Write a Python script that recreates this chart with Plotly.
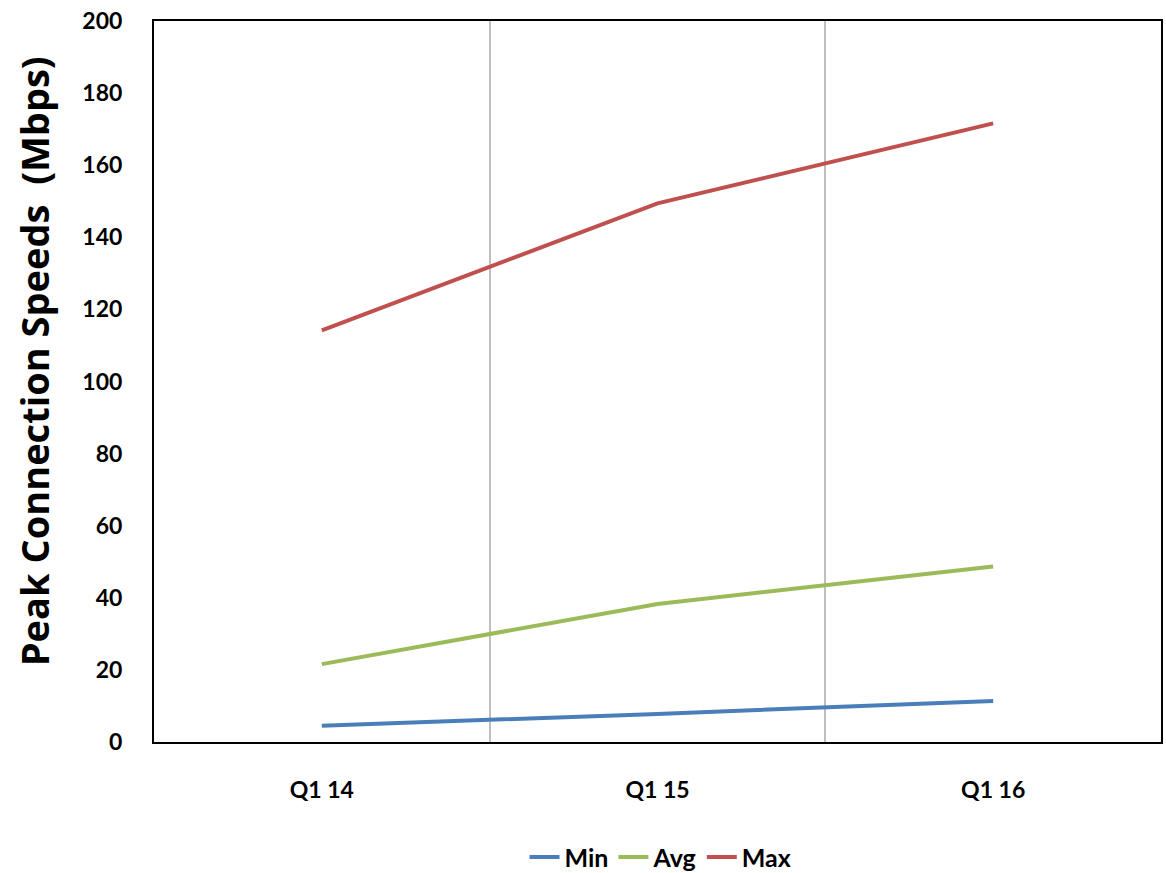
import plotly.graph_objects as go

# Quarterly peak connection speeds (Mbps)
quarters = ["Q1 14", "Q1 15", "Q1 16"]
speed_min = [4.5, 7.8, 11.4]
speed_avg = [21.6, 38.3, 48.7]
speed_max = [114.2, 149.4, 171.6]

series = [
    ("Min", speed_min, "#4A7EBB"),
    ("Avg", speed_avg, "#9BBB59"),
    ("Max", speed_max, "#C0504D"),
]

tick_font = dict(family="Lato, Calibri, sans-serif", size=23, color="black")

fig = go.Figure()
for name, values, color in series:
    fig.add_trace(go.Scatter(
        x=quarters, y=values, name=f"<b>{name}</b>", mode="lines",
        line=dict(color=color, width=4),
    ))

fig.update_layout(
    width=1166, height=873,
    margin=dict(l=154, r=3, t=21, b=131),
    paper_bgcolor="white", plot_bgcolor="white",
    showlegend=True,
    legend=dict(
        orientation="h", x=0.503, xanchor="center",
        yref="container", y=0.018, yanchor="middle",
        font=dict(family="Lato, Calibri, sans-serif", size=25, color="black"),
        itemwidth=30, tracegroupgap=0,
    ),
    annotations=[dict(
        text="<b>Peak Connection Speeds\u00a0\u00a0(Mbps)</b>",
        textangle=-90, xref="paper", yref="paper",
        x=(34 - 154) / 1009, y=(742 - 361) / 721,
        xanchor="center", yanchor="middle", showarrow=False,
        font=dict(family="Open Sans, sans-serif", size=38, color="black"),
    )],
)

fig.update_xaxes(
    type="category", range=[-0.5, 2.5],
    tickson="boundaries", ticks="",
    showgrid=True, gridcolor="#BFBFBF", gridwidth=1.5,
    showline=True, linecolor="black", linewidth=2, mirror=True,
    tickfont=tick_font, ticklabelstandoff=26,
    tickprefix="<b>", ticksuffix="</b>",
)
fig.update_yaxes(
    range=[0, 200], dtick=20, showgrid=False, zeroline=False,
    showline=True, linecolor="black", linewidth=2, mirror=True,
    tickfont=tick_font, ticks="", ticklabelstandoff=25,
    tickprefix="<b>", ticksuffix="</b>",
)

fig.write_html("out.html")
